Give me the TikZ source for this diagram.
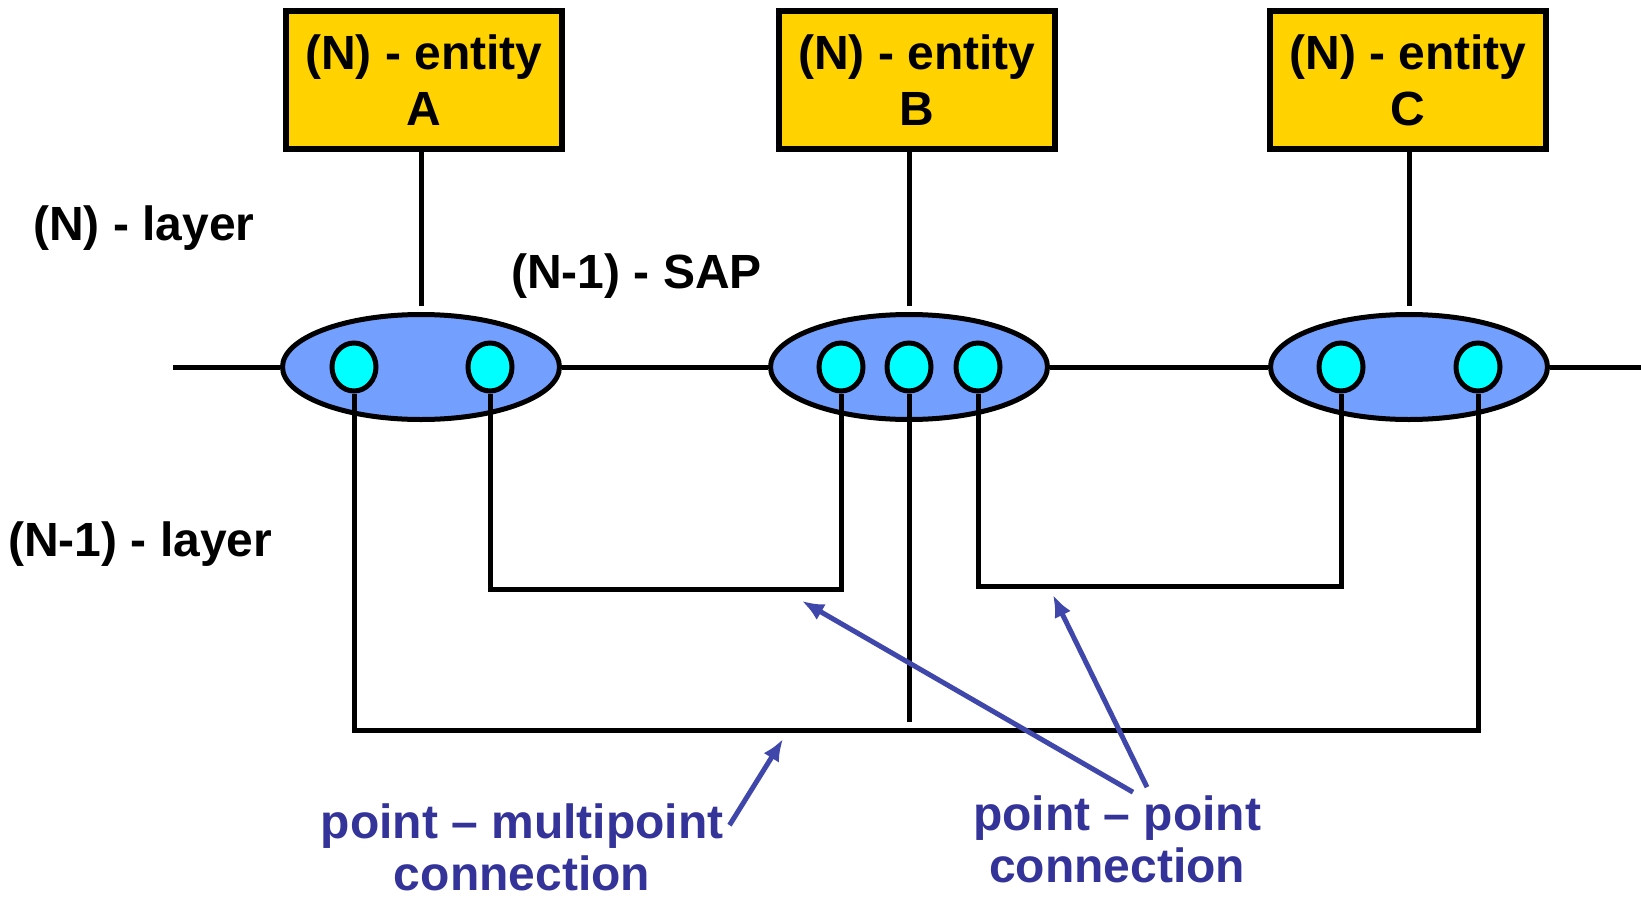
\documentclass[tikz,border=0pt]{standalone}
\usepackage{fontspec}
\setmainfont{Liberation Sans}
\usetikzlibrary{positioning}
\usetikzlibrary{shapes.geometric}
\usetikzlibrary{arrows.meta}
\usetikzlibrary{calc}

\definecolor{entgold}{RGB}{255,210,0}
\definecolor{sapblue}{RGB}{115,160,255}
\definecolor{sapcyan}{RGB}{0,255,255}
\definecolor{notecol}{RGB}{51,51,153}
\definecolor{arrowcol}{RGB}{63,72,170}

\begin{document}
\begin{tikzpicture}[x=1pt, y=-1pt,
  entity/.style={draw, line width=6pt, fill=entgold, minimum width=276pt, minimum height=138pt, inner sep=0pt, align=center, font=\bfseries\fontsize{48}{56}\selectfont},
  sapgroup/.style={ellipse, draw, line width=5pt, fill=sapblue, minimum width=277pt, minimum height=105pt, inner sep=0pt},
  sap/.style={ellipse, draw, line width=5pt, fill=sapcyan, minimum width=44pt, minimum height=48pt, inner sep=0pt},
  wire/.style={line width=5pt},
  lbl/.style={font=\bfseries\fontsize{48}{56}\selectfont, inner sep=0pt},
  note/.style={font=\bfseries\fontsize{48}{52}\selectfont, text=notecol, align=center, inner sep=0pt},
  pointer/.style={line width=5pt, arrowcol, -{Latex[length=22pt, width=18pt]}}]
	\useasboundingbox (0,0) rectangle (1641,899);

	% the (N)-entities with their groups of SAPs
	\foreach \n/\x/\ex in {A/424/421, B/917/909, C/1408/1409} {
		\node[entity] (ent\n) at (\x,80) {(N) - entity\\\n};
		\node[sapgroup] (grp\n) at (\ex,367) {};
	}

	% layer boundary
	\coordinate (lineL) at (173,367);
	\coordinate (lineR) at (1641,367);
	\draw[wire] (lineL) -- (grpA.west);
	\draw[wire] (grpA.east) -- (grpB.west);
	\draw[wire] (grpB.east) -- (grpC.west);
	\draw[wire] (grpC.east) -- (lineR);

	% entity down to its group
	\foreach \n in {A,B,C} {
		\draw[wire, shorten >=6pt] (grp\n.north |- ent\n.south) -- (grp\n.north);
	}

	% the (N-1)-SAPs
	\foreach \n/\x in {A1/354, A2/490, B1/841, B2/909, B3/978, C1/1341, C2/1478} {
		\node[sap] (sap\n) at (\x,367) {};
	}

	% connections in the (N-1)-layer
	\coordinate (ptpL) at (0,589);
	\coordinate (ptpR) at (0,586);
	\coordinate (pmp) at (0,730);
	\coordinate (pmpMid) at (0,722);
	\draw[wire] (sapA2.south) -- (sapA2.south |- ptpL) -- (sapB1.south |- ptpL) -- (sapB1.south);
	\draw[wire] (sapB3.south) -- (sapB3.south |- ptpR) -- (sapC1.south |- ptpR) -- (sapC1.south);
	\draw[wire] (sapA1.south) -- (sapA1.south |- pmp) -- (sapC2.south |- pmp) -- (sapC2.south);
	\draw[wire] (sapB2.south) -- (sapB2.south |- pmpMid);

	% labels
	\node[lbl, anchor=base west] (nlayer) at (33,240) {(N) - layer};
	\node[lbl, anchor=base west] (n1layer) at (8,556) {(N-1) - layer};
	\node[lbl, anchor=base west] (n1sap) at (511,288) {(N-1) - SAP};

	% notes with their arrows
	\node[note] (pmpNote) at (522,847) {point -- multipoint\\connection};
	\node[note] (ptpNote) at (1117,839) {point -- point\\connection};
	\coordinate (ptpTipL) at (802,601);
	\coordinate (ptpTipR) at (1053,595);
	\coordinate (pmpTip) at (783,739);
	\draw[pointer] ([shift={(16pt,3pt)}]ptpNote.north) -- (ptpTipL);
	\draw[pointer] ([shift={(30pt,8pt)}]ptpNote.north) -- (ptpTipR);
	\draw[pointer] ([shift={(6pt,-22pt)}]pmpNote.north east) -- (pmpTip);
\end{tikzpicture}
\end{document}
